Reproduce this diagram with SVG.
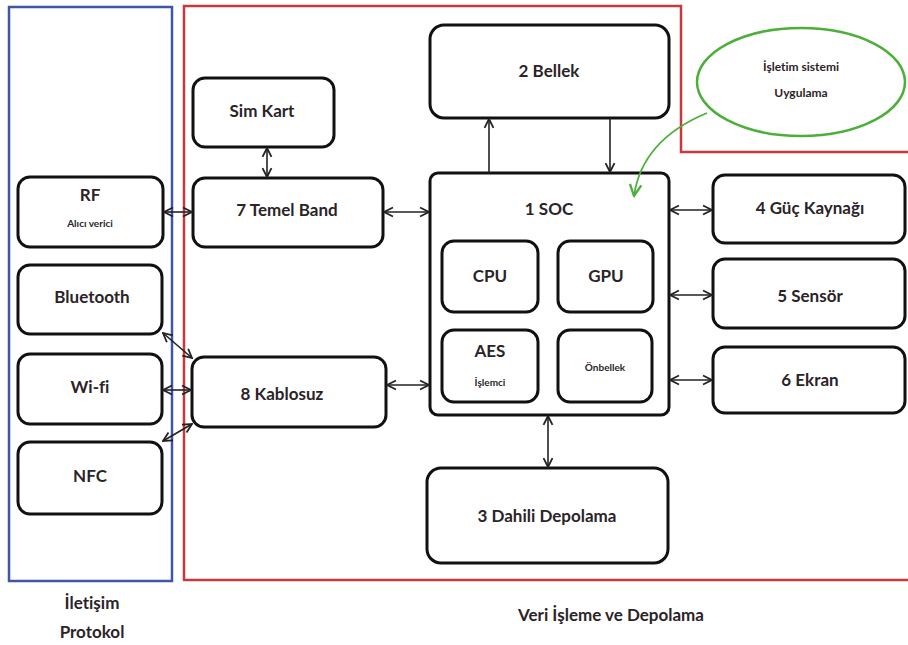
<svg xmlns="http://www.w3.org/2000/svg" width="908" height="645" viewBox="0 0 908 645">
<defs>
<style>
.box{fill:#fff;stroke:#111;stroke-width:3}
.t{font-family:Lato,"Open Sans","Liberation Sans",sans-serif;font-weight:bold;font-size:17px;fill:#2a2428;text-anchor:middle;font-variant-ligatures:none}
.s{font-family:Lato,"Open Sans","Liberation Sans",sans-serif;font-weight:bold;font-size:10px;fill:#2a2428;text-anchor:middle;font-variant-ligatures:none}
.c{stroke:#222;stroke-width:1.6;fill:none}
</style>
<marker id="ah" viewBox="0 0 10 10" refX="9" refY="5" markerWidth="7" markerHeight="7" orient="auto-start-reverse">
<path d="M1,1 L9,5 L1,9" fill="none" stroke="#222" stroke-width="1.6"/>
</marker>
<marker id="gh" viewBox="0 0 10 10" refX="9" refY="5" markerWidth="8" markerHeight="8" orient="auto">
<path d="M1,1 L9,5 L1,9" fill="none" stroke="#4caf3a" stroke-width="1.6"/>
</marker>
</defs>
<rect width="908" height="645" fill="#fff"/>
<g id="region-iletisim">
<rect x="9" y="7" width="163" height="574" fill="none" stroke="#3f55a8" stroke-width="2.5"/>
<text class="t" x="92" y="609">İletişim</text>
<text class="t" x="92" y="638">Protokol</text>
</g>
<g id="region-veri">
<polyline points="184,580 184,6 681,6 681,152 908,152" fill="none" stroke="#c8383d" stroke-width="2.5"/>
<line x1="183" y1="580" x2="908" y2="580" stroke="#c8383d" stroke-width="2.5"/>
<text class="t" x="611" y="621">Veri İşleme ve Depolama</text>
</g>
<g id="rf"><rect class="box" x="18" y="177" width="145" height="70" rx="12"/><text class="t" x="90" y="201">RF</text><text class="s" x="90" y="227">Alıcı verici</text></g>
<g id="bluetooth"><rect class="box" x="18" y="265" width="144" height="69" rx="12"/><text class="t" x="92" y="303">Bluetooth</text></g>
<g id="wifi"><rect class="box" x="18" y="354" width="144" height="70" rx="12"/><text class="t" x="90" y="393">Wi-fi</text></g>
<g id="nfc"><rect class="box" x="18" y="442" width="144" height="72" rx="12"/><text class="t" x="90" y="482">NFC</text></g>
<g id="simkart"><rect class="box" x="193" y="78" width="141" height="69" rx="12"/><text class="t" x="262" y="117">Sim Kart</text></g>
<g id="temelband"><rect class="box" x="193" y="178" width="190" height="69" rx="12"/><text class="t" x="287" y="216">7 Temel Band</text></g>
<g id="kablosuz"><rect class="box" x="192" y="357" width="194" height="70" rx="12"/><text class="t" x="282" y="400">8 Kablosuz</text></g>
<g id="bellek"><rect class="box" x="430" y="25" width="239" height="93" rx="14"/><text class="t" x="549" y="77">2 Bellek</text></g>
<g id="soc"><rect class="box" x="430" y="173" width="239" height="242" rx="8"/><text class="t" x="549" y="215">1 SOC</text>
<rect class="box" x="442" y="241" width="96" height="71" rx="12"/><text class="t" x="490" y="282">CPU</text>
<rect class="box" x="558" y="241" width="95" height="71" rx="12"/><text class="t" x="606" y="282">GPU</text>
<rect class="box" x="442" y="330" width="96" height="72" rx="12"/><text class="t" x="490" y="357">AES</text><text class="s" x="490" y="386">İşlemci</text>
<rect class="box" x="558" y="330" width="94" height="72" rx="12"/><text class="s" x="605" y="371">Önbellek</text></g>
<g id="dahili"><rect class="box" x="427" y="468" width="241" height="95" rx="14"/><text class="t" x="547" y="522">3 Dahili Depolama</text></g>
<g id="guc"><rect class="box" x="713" y="175" width="192" height="68" rx="12"/><text class="t" x="810" y="214">4 Güç Kaynağı</text></g>
<g id="sensor"><rect class="box" x="713" y="259" width="192" height="69" rx="12"/><text class="t" x="810" y="302">5 Sensör</text></g>
<g id="ekran"><rect class="box" x="713" y="347" width="192" height="66" rx="12"/><text class="t" x="810" y="386">6 Ekran</text></g>
<g id="os"><ellipse cx="801" cy="82" rx="104" ry="54" fill="#fff" stroke="#4caf3a" stroke-width="2.5"/><text class="s" x="801" y="71" style="font-size:12px">İşletim sistemi</text><text class="s" x="801" y="97" style="font-size:12px">Uygulama</text></g>
<g id="connectors">
<line class="c" x1="489" y1="173" x2="489" y2="119" marker-end="url(#ah)"/>
<line class="c" x1="610" y1="118" x2="610" y2="172" marker-end="url(#ah)"/>
<line class="c" x1="267" y1="148" x2="267" y2="177" marker-start="url(#ah)" marker-end="url(#ah)"/>
<line class="c" x1="164" y1="212" x2="192" y2="212" marker-start="url(#ah)" marker-end="url(#ah)"/>
<line class="c" x1="384" y1="212" x2="429" y2="212" marker-start="url(#ah)" marker-end="url(#ah)"/>
<line class="c" x1="387" y1="385" x2="429" y2="385" marker-start="url(#ah)" marker-end="url(#ah)"/>
<line class="c" x1="163" y1="333" x2="192" y2="358" marker-start="url(#ah)" marker-end="url(#ah)"/>
<line class="c" x1="163" y1="390" x2="191" y2="390" marker-start="url(#ah)" marker-end="url(#ah)"/>
<line class="c" x1="163" y1="441" x2="192" y2="424" marker-start="url(#ah)" marker-end="url(#ah)"/>
<line class="c" x1="670" y1="210" x2="712" y2="210" marker-start="url(#ah)" marker-end="url(#ah)"/>
<line class="c" x1="670" y1="295" x2="712" y2="295" marker-start="url(#ah)" marker-end="url(#ah)"/>
<line class="c" x1="670" y1="380" x2="712" y2="380" marker-start="url(#ah)" marker-end="url(#ah)"/>
<line class="c" x1="548" y1="416" x2="548" y2="467" marker-start="url(#ah)" marker-end="url(#ah)"/>
<path d="M707,113 Q642,140 634,196" fill="none" stroke="#4caf3a" stroke-width="1.8" marker-end="url(#gh)"/>
</g>
</svg>
